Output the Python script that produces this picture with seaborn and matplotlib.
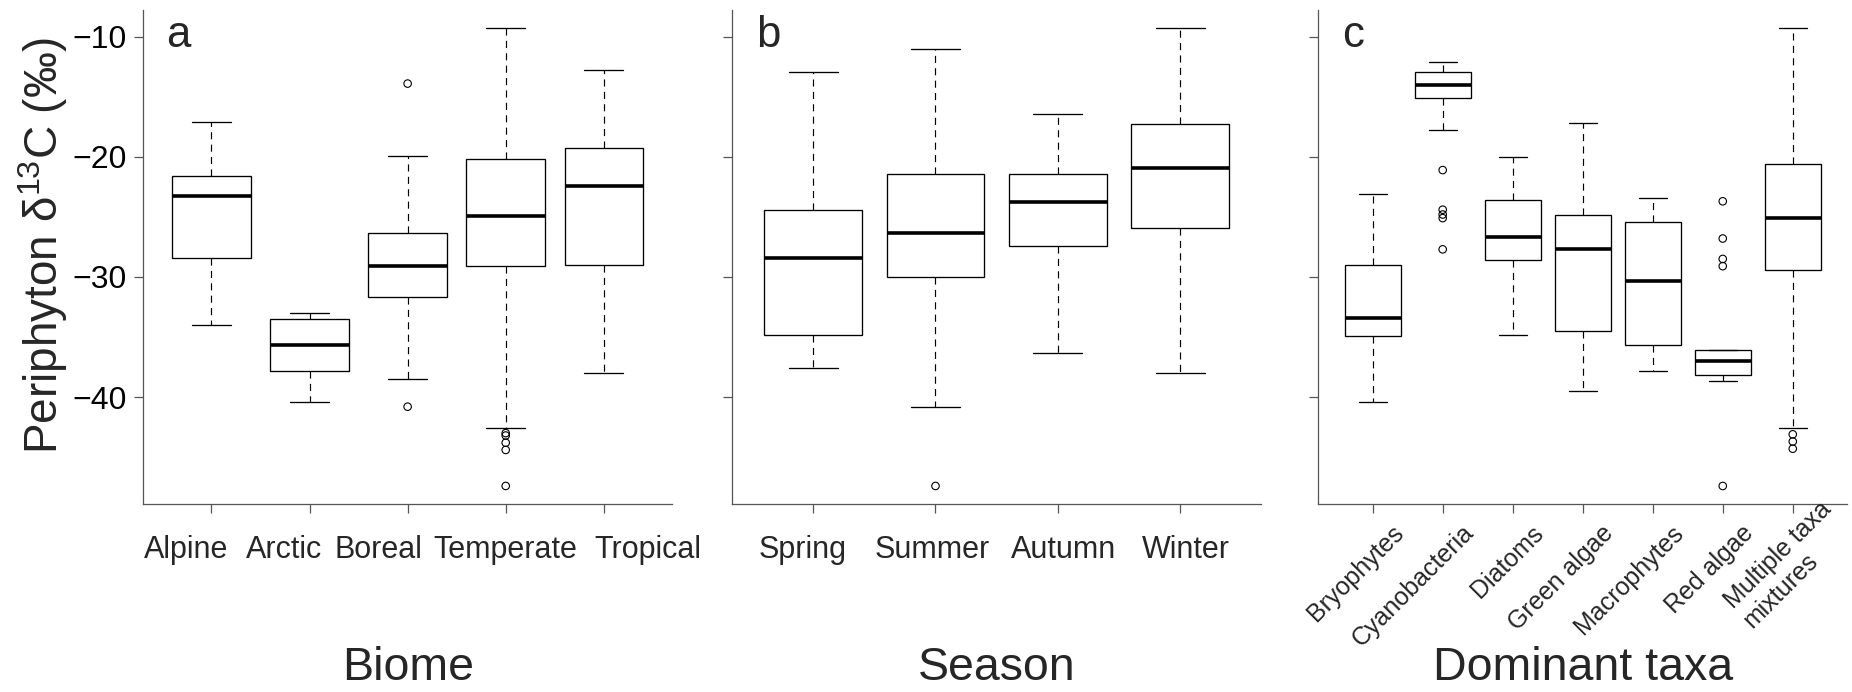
import numpy as np
import pandas as pd
import matplotlib
matplotlib.use("Agg")
import matplotlib.pyplot as plt
import matplotlib.transforms as mtransforms
import seaborn as sns

# Five-number summaries (per mil), plus outliers
biome_cats = ["Alpine", "Arctic", "Boreal", "Temperate", "Tropical"]
biome_lo = [-34.0, -40.4, -38.5, -42.6, -38.0]
biome_q1 = [-28.4, -37.8, -31.7, -29.1, -29.0]
biome_med = [-23.3, -35.7, -29.1, -24.9, -22.4]
biome_q3 = [-21.6, -33.5, -26.3, -20.2, -19.3]
biome_hi = [-17.1, -33.0, -19.9, -9.3, -12.8]
biome_out_cat = ["Boreal", "Boreal", "Temperate", "Temperate", "Temperate", "Temperate", "Temperate"]
biome_out_val = [-13.9, -40.8, -43.0, -43.2, -43.8, -44.4, -47.4]

season_cats = ["Spring", "Summer", "Autumn", "Winter"]
season_lo = [-37.6, -40.8, -36.3, -38.0]
season_q1 = [-34.8, -30.0, -27.4, -25.9]
season_med = [-28.4, -26.3, -23.8, -20.9]
season_q3 = [-24.4, -21.4, -21.4, -17.3]
season_hi = [-12.9, -11.0, -16.4, -9.3]
season_out_cat = ["Summer"]
season_out_val = [-47.4]

taxa_cats = ["Bryophytes", "Cyanobacteria", "Diatoms", "Green algae",
             "Macrophytes", "Red algae", "Multiple taxa\nmixtures"]
taxa_lo = [-40.4, -17.8, -34.8, -39.5, -37.8, -38.7, -42.6]
taxa_q1 = [-34.9, -15.1, -28.6, -34.5, -35.7, -38.2, -29.4]
taxa_med = [-33.4, -14.0, -26.7, -27.7, -30.3, -37.0, -25.1]
taxa_q3 = [-29.0, -12.9, -23.6, -24.8, -25.4, -36.1, -20.6]
taxa_hi = [-23.1, -12.1, -20.0, -17.2, -23.4, -36.1, -9.3]
taxa_out_cat = ["Cyanobacteria"] * 5 + ["Red algae"] * 5 + ["Multiple taxa\nmixtures"] * 3
taxa_out_val = [-21.1, -24.4, -24.8, -25.1, -27.7,
                -23.7, -26.8, -28.5, -29.1, -47.4,
                -43.1, -43.7, -44.3]

# label placement (the original typed the labels as one spaced string,
# so they sit a little off the ticks)
biome_label_shift = [-0.255, -0.26, -0.30, 0.0, 0.45]
season_label_shift = [-0.09, -0.03, 0.05, 0.05]

sns.set_theme(style="ticks")
plt.rcParams["font.family"] = ["Liberation Sans", "DejaVu Sans"]
plt.rcParams["mathtext.fontset"] = "custom"
plt.rcParams["mathtext.rm"] = "Liberation Sans"
plt.rcParams["mathtext.default"] = "regular"

AXIS_COL = "#555555"


def summary_frame(cats, lo, q1, med, q3, hi):
    rows = []
    for c, a, b, m, d, e in zip(cats, lo, q1, med, q3, hi):
        for v in (a, b, m, d, e):
            rows.append({"cat": c, "value": v})
    return pd.DataFrame(rows)


def draw_panel(ax, cats, lo, q1, med, q3, hi, out_cat, out_val, letter):
    df = summary_frame(cats, lo, q1, med, q3, hi)
    sns.boxplot(data=df, x="cat", y="value", order=cats, ax=ax,
                whis=(0, 100), showfliers=False, width=0.8,
                color="white", linecolor="black", linewidth=0.95,
                medianprops={"linewidth": 2.6, "color": "black"},
                whiskerprops={"linestyle": (0, (6, 4.5)), "linewidth": 0.85},
                capprops={"linewidth": 0.95})
    n_before = len(ax.collections)
    odf = pd.DataFrame({"cat": out_cat, "value": out_val})
    sns.stripplot(data=odf, x="cat", y="value", order=cats, ax=ax,
                  jitter=False, size=5.4, color="black",
                  edgecolor="black", linewidth=0.8)
    for coll in ax.collections[n_before:]:
        coll.set_facecolor("none")
        coll.set_edgecolor("black")

    n = len(cats)
    ax.set_xlim(-0.5 - 0.04 * n, n - 0.5 + 0.04 * n)
    ax.set_ylim(-48.9, -7.8)
    ax.set_yticks([-40, -30, -20, -10])
    ax.set_xticks(range(n))
    ax.set_xticklabels([])
    ax.set_xlabel("")
    ax.set_ylabel("")
    for side in ["top", "right"]:
        ax.spines[side].set_visible(False)
    for side in ["left", "bottom"]:
        ax.spines[side].set_color(AXIS_COL)
        ax.spines[side].set_linewidth(0.9)
    ax.tick_params(axis="both", direction="out", length=6.5, width=0.9,
                   color=AXIS_COL, labelcolor="black")
    ax.tick_params(axis="y", labelsize=23, pad=5)
    ax.text(0.045, 0.926, letter, transform=ax.transAxes, fontsize=31.5,
            ha="left", va="baseline")


fig = plt.figure(figsize=(18.52, 6.92), dpi=100)
ax_a = fig.add_axes([0.0771, 0.2717, 0.2860, 0.7134])
ax_b = fig.add_axes([0.3955, 0.2717, 0.2853, 0.7134])
ax_c = fig.add_axes([0.7117, 0.2717, 0.2858, 0.7134])

draw_panel(ax_a, biome_cats, biome_lo, biome_q1, biome_med, biome_q3, biome_hi,
           biome_out_cat, biome_out_val, "a")
draw_panel(ax_b, season_cats, season_lo, season_q1, season_med, season_q3, season_hi,
           season_out_cat, season_out_val, "b")
draw_panel(ax_c, taxa_cats, taxa_lo, taxa_q1, taxa_med, taxa_q3, taxa_hi,
           taxa_out_cat, taxa_out_val, "c")

ax_b.tick_params(axis="y", labelleft=False)
ax_c.tick_params(axis="y", labelleft=False)

# horizontal category labels for panels a and b
for ax, cats, shifts in [(ax_a, biome_cats, biome_label_shift),
                         (ax_b, season_cats, season_label_shift)]:
    tr = mtransforms.blended_transform_factory(ax.transData, ax.transAxes)
    for i, (lab, s) in enumerate(zip(cats, shifts)):
        ax.text(i + s, -0.110, lab, transform=tr, fontsize=22,
                ha="center", va="baseline")

# rotated taxa labels, right end placed a little right of each tick
tr = mtransforms.blended_transform_factory(ax_c.transData, ax_c.transAxes)
for i, lab in enumerate(taxa_cats):
    dx, dy = (0.39, -0.051) if "\n" not in lab else (0.63, -0.023)
    ax_c.text(i + dx, dy, lab, transform=tr, fontsize=18,
              rotation=45, rotation_mode="anchor", ha="right", va="center",
              multialignment="left")

fig.text(0.023, 0.645, r"Periphyton δ$^{13}$C (‰)", rotation=90,
         fontsize=33, ha="center", va="center")
for ax, lab in [(ax_a, "Biome"), (ax_b, "Season"), (ax_c, "Dominant taxa")]:
    pos = ax.get_position()
    fig.text(pos.x0 + pos.width / 2, 1 - 680 / 692, lab, fontsize=33.5,
             ha="center", va="baseline")

fig.savefig("out.png", dpi=100, facecolor="white")
